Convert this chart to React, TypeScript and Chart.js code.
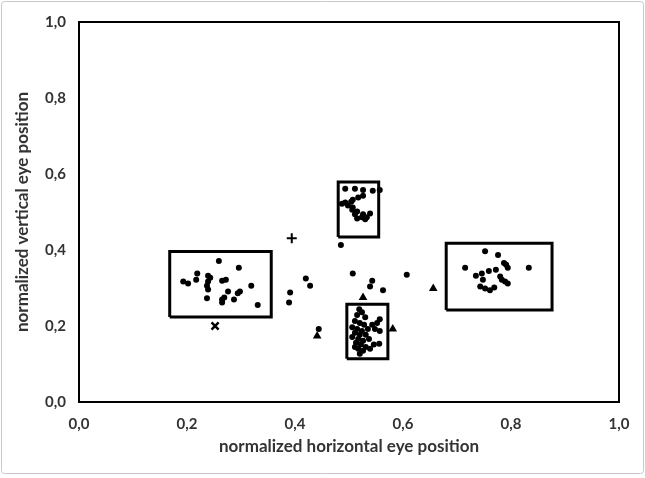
import { useEffect, useRef } from "react";
import { Chart, registerables } from "chart.js";

Chart.register(...registerables);

type Pt = { x: number; y: number };

// Fixation clusters (normalized eye position)
const leftCluster: Pt[] = [
  { x: 0.259, y: 0.371 }, { x: 0.296, y: 0.353 }, { x: 0.219, y: 0.338 },
  { x: 0.217, y: 0.322 }, { x: 0.193, y: 0.317 }, { x: 0.202, y: 0.312 },
  { x: 0.239, y: 0.332 }, { x: 0.243, y: 0.327 }, { x: 0.239, y: 0.317 },
  { x: 0.237, y: 0.306 }, { x: 0.239, y: 0.296 }, { x: 0.265, y: 0.319 },
  { x: 0.272, y: 0.322 }, { x: 0.319, y: 0.306 }, { x: 0.276, y: 0.291 },
  { x: 0.298, y: 0.291 }, { x: 0.294, y: 0.286 }, { x: 0.237, y: 0.273 },
  { x: 0.269, y: 0.275 }, { x: 0.265, y: 0.27 }, { x: 0.287, y: 0.27 },
  { x: 0.265, y: 0.262 }, { x: 0.331, y: 0.255 },
];

const topCluster: Pt[] = [
  { x: 0.493, y: 0.561 }, { x: 0.511, y: 0.561 }, { x: 0.526, y: 0.558 },
  { x: 0.544, y: 0.556 }, { x: 0.557, y: 0.558 }, { x: 0.526, y: 0.543 },
  { x: 0.517, y: 0.538 }, { x: 0.507, y: 0.532 }, { x: 0.504, y: 0.527 },
  { x: 0.493, y: 0.525 }, { x: 0.487, y: 0.522 }, { x: 0.498, y: 0.517 },
  { x: 0.507, y: 0.512 }, { x: 0.506, y: 0.506 }, { x: 0.515, y: 0.501 },
  { x: 0.511, y: 0.494 }, { x: 0.526, y: 0.494 }, { x: 0.533, y: 0.486 },
  { x: 0.524, y: 0.486 }, { x: 0.539, y: 0.496 }, { x: 0.515, y: 0.483 },
  { x: 0.53, y: 0.481 },
];

const rightCluster: Pt[] = [
  { x: 0.752, y: 0.397 }, { x: 0.776, y: 0.387 }, { x: 0.787, y: 0.366 },
  { x: 0.791, y: 0.361 }, { x: 0.794, y: 0.353 }, { x: 0.715, y: 0.353 },
  { x: 0.833, y: 0.353 }, { x: 0.759, y: 0.345 }, { x: 0.772, y: 0.348 },
  { x: 0.746, y: 0.338 }, { x: 0.735, y: 0.332 }, { x: 0.748, y: 0.322 },
  { x: 0.78, y: 0.33 }, { x: 0.783, y: 0.322 }, { x: 0.789, y: 0.317 },
  { x: 0.794, y: 0.312 }, { x: 0.743, y: 0.304 }, { x: 0.752, y: 0.299 },
  { x: 0.769, y: 0.301 }, { x: 0.761, y: 0.294 },
];

const bottomCluster: Pt[] = [
  { x: 0.519, y: 0.244 }, { x: 0.524, y: 0.236 }, { x: 0.515, y: 0.229 },
  { x: 0.53, y: 0.223 }, { x: 0.557, y: 0.218 }, { x: 0.552, y: 0.208 },
  { x: 0.543, y: 0.203 }, { x: 0.511, y: 0.213 }, { x: 0.52, y: 0.208 },
  { x: 0.528, y: 0.203 }, { x: 0.506, y: 0.197 }, { x: 0.515, y: 0.192 },
  { x: 0.524, y: 0.187 }, { x: 0.535, y: 0.192 }, { x: 0.548, y: 0.192 },
  { x: 0.557, y: 0.187 }, { x: 0.511, y: 0.182 }, { x: 0.52, y: 0.177 },
  { x: 0.531, y: 0.177 }, { x: 0.506, y: 0.171 }, { x: 0.517, y: 0.166 },
  { x: 0.526, y: 0.161 }, { x: 0.537, y: 0.166 }, { x: 0.513, y: 0.156 },
  { x: 0.522, y: 0.151 }, { x: 0.531, y: 0.145 }, { x: 0.546, y: 0.151 },
  { x: 0.556, y: 0.153 }, { x: 0.517, y: 0.14 }, { x: 0.526, y: 0.135 },
  { x: 0.52, y: 0.127 }, { x: 0.539, y: 0.14 }, { x: 0.511, y: 0.145 },
];

const strayPoints: Pt[] = [
  { x: 0.485, y: 0.413 }, { x: 0.42, y: 0.325 }, { x: 0.428, y: 0.306 },
  { x: 0.507, y: 0.338 }, { x: 0.543, y: 0.319 }, { x: 0.539, y: 0.304 },
  { x: 0.563, y: 0.294 }, { x: 0.607, y: 0.335 }, { x: 0.391, y: 0.288 },
  { x: 0.389, y: 0.262 }, { x: 0.444, y: 0.192 },
];

const trianglePoints: Pt[] = [
  { x: 0.656, y: 0.299 }, { x: 0.526, y: 0.275 }, { x: 0.441, y: 0.174 },
  { x: 0.581, y: 0.192 },
];

const plusPoints: Pt[] = [{ x: 0.394, y: 0.431 }];
const crossPoints: Pt[] = [{ x: 0.252, y: 0.2 }];

// Region boxes: [xMin, xMax, yMin, yMax]
const regionBoxes: [number, number, number, number][] = [
  [0.168, 0.356, 0.224, 0.396],
  [0.48, 0.555, 0.434, 0.579],
  [0.68, 0.876, 0.242, 0.418],
  [0.496, 0.572, 0.114, 0.257],
];

const tickLabels = ["0,0", "0,2", "0,4", "0,6", "0,8", "1,0"];

const xTitle = "normalized horizontal eye position";
const yTitle = "normalized vertical eye position";

const FONT = "Lato, 'Open Sans', 'DejaVu Sans', sans-serif";
const TEXT_COLOR = "#333333";

const framePlugin = {
  id: "frame",
  beforeDraw(chart: Chart) {
    const ctx = chart.ctx;
    ctx.save();
    ctx.fillStyle = "#ffffff";
    ctx.fillRect(0, 0, chart.width, chart.height);
    ctx.strokeStyle = "#c8c8c8";
    ctx.lineWidth = 1;
    ctx.beginPath();
    ctx.roundRect(1.5, 1.5, chart.width - 3, chart.height - 6, 3);
    ctx.stroke();
    ctx.restore();
  },
  afterDraw(chart: Chart) {
    const { left, top, right, bottom } = chart.chartArea;
    const ctx = chart.ctx;
    ctx.save();
    ctx.strokeStyle = "#000000";
    ctx.lineWidth = 2;
    ctx.strokeRect(left, top, right - left, bottom - top);
    ctx.restore();
  },
};

function boxPath(b: [number, number, number, number]): Pt[] {
  const [x0, x1, y0, y1] = b;
  return [
    { x: x0, y: y0 },
    { x: x1, y: y0 },
    { x: x1, y: y1 },
    { x: x0, y: y1 },
    { x: x0, y: y0 },
  ];
}

export default function App() {
  const canvasRef = useRef<HTMLCanvasElement | null>(null);

  useEffect(() => {
    document.body.style.margin = "0";
    const canvas = canvasRef.current;
    if (!canvas) return;

    const dotStyle = {
      pointStyle: "circle" as const,
      pointRadius: 3,
      pointBackgroundColor: "#000",
      pointBorderColor: "#000",
      pointBorderWidth: 0,
      showLine: false,
    };

    const datasets: any[] = [
      ...regionBoxes.map((b) => ({
        data: boxPath(b),
        showLine: true,
        borderColor: "#000",
        borderWidth: 3,
        borderJoinStyle: "miter",
        pointRadius: 0,
        fill: false,
      })),
      { data: leftCluster, ...dotStyle },
      { data: topCluster, ...dotStyle },
      { data: rightCluster, ...dotStyle },
      { data: bottomCluster, ...dotStyle },
      { data: strayPoints, ...dotStyle },
      {
        data: trianglePoints,
        pointStyle: "triangle",
        pointRadius: 5,
        pointBackgroundColor: "#000",
        pointBorderColor: "#000",
        pointBorderWidth: 0,
      },
      {
        data: plusPoints,
        pointStyle: "cross",
        pointRadius: 5,
        pointBorderColor: "#000",
        pointBorderWidth: 2,
      },
      {
        data: crossPoints,
        pointStyle: "crossRot",
        pointRadius: 5,
        pointBorderColor: "#000",
        pointBorderWidth: 2.5,
      },
    ];

    const axisCommon = (title: string, isY: boolean) => ({
      type: "linear" as const,
      min: 0,
      max: 1,
      grid: { display: false, drawTicks: false },
      border: { display: false },
      ticks: {
        stepSize: 0.2,
        padding: isY ? 13 : 13,
        color: TEXT_COLOR,
        font: { family: FONT, size: 15, weight: "bold" as const },
        callback: (_v: any, i: number) => tickLabels[i],
      },
      title: {
        display: true,
        text: title,
        color: TEXT_COLOR,
        font: { family: FONT, size: 17, weight: "bold" as const },
        padding: isY ? { top: 12, bottom: 0 } : { top: 0, bottom: 21 },
      },
    });

    const chart = new Chart(canvas, {
      type: "scatter",
      data: { datasets },
      options: {
        responsive: false,
        animation: false,
        layout: { padding: { left: 0, right: 26, top: 17, bottom: 0 } },
        plugins: {
          legend: { display: false },
          tooltip: { enabled: false },
        },
        scales: {
          x: {
            ...axisCommon(xTitle, false),
            afterFit: (scale: any) => {
              scale.height = 76;
            },
          },
          y: {
            ...axisCommon(yTitle, true),
            afterFit: (scale: any) => {
              scale.width = 79;
            },
          },
        },
      },
      plugins: [framePlugin],
    });

    return () => chart.destroy();
  }, []);

  return (
    <div style={{ width: 645, height: 478 }}>
      <canvas ref={canvasRef} width={645} height={478} />
    </div>
  );
}
